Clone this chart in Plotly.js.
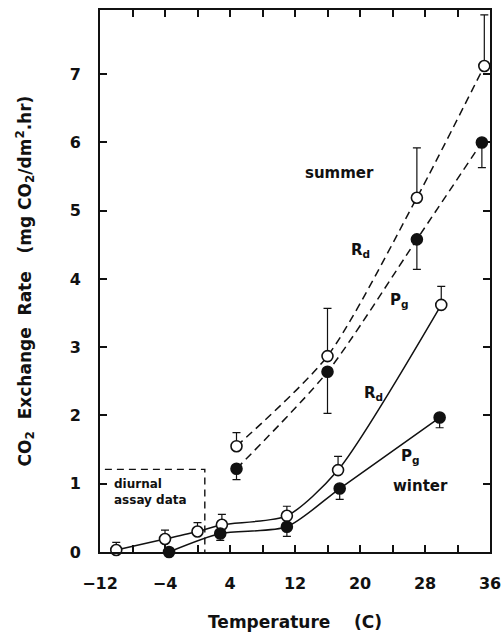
<!DOCTYPE html>
<html>
<head>
<meta charset="utf-8">
<script src="https://cdn.plot.ly/plotly-3.0.1.min.js"></script>
<style>html,body{margin:0;padding:0;background:#fff;}</style>
</head>
<body>
<div id="chart" style="width:503px;height:632px;"></div>
<script>
// ---- data ----
const winterRdT   = [-10, -4, 0, 3, 11, 17.3, 30];
const winterRd    = [0.03, 0.19, 0.30, 0.40, 0.53, 1.20, 3.62];
const winterRdErr = [0.11, 0.13, 0.13, 0.15, 0.14, 0.20, 0.27];

const winterPgT   = [-3.5, 2.8, 11, 17.5, 29.8];
const winterPg    = [0, 0.27, 0.37, 0.93, 1.97];
const winterPgErr = [0, 0.10, 0.14, 0.16, 0.15];

const summerRdT   = [4.8, 16, 27, 35.3];
const summerRd    = [1.55, 2.87, 5.19, 7.12];
const summerRdErr = [0.20, 0.70, 0.73, 0.75];

const summerPgT   = [4.8, 16, 27, 35];
const summerPg    = [1.22, 2.64, 4.58, 6.00];
const summerPgErr = [0.16, 0.61, 0.44, 0.37];

const diurnalBoxT = [-11.4, 0.9, 0.9];
const diurnalBoxY = [1.21, 1.21, 0];

const xTickStart = -12, xTickStep = 8, xMinorStep = 4;
const yTickStep = 1;

// ---- styling ----
const INK = '#111';
const FONT = 'DejaVu Sans';
const zeros = a => a.map(() => 0);
const NB = '\u00a0';

function series(x, y, err, open, dashed) {
  return {
    type: 'scatter', mode: 'lines+markers', x: x, y: y, cliponaxis: false,
    line: {color: INK, width: 1.5, shape: 'spline', smoothing: 0.7, dash: dashed ? '8px,5px' : 'solid'},
    marker: {symbol: 'circle', size: 11, color: open ? '#fff' : INK, line: {color: INK, width: 1.6}},
    error_y: open
      ? {type: 'data', symmetric: false, array: err, arrayminus: zeros(err), color: INK, thickness: 1.2, width: 4}
      : {type: 'data', symmetric: false, array: zeros(err), arrayminus: err, color: INK, thickness: 1.2, width: 4},
    hoverinfo: 'x+y'
  };
}

const traces = [
  {type: 'scatter', mode: 'lines', x: diurnalBoxT, y: diurnalBoxY, cliponaxis: false,
   line: {color: INK, width: 1.4, dash: '7px,5px'}, hoverinfo: 'skip'},
  series(summerRdT, summerRd, summerRdErr, true, true),
  series(summerPgT, summerPg, summerPgErr, false, true),
  series(winterRdT, winterRd, winterRdErr, true, false),
  series(winterPgT, winterPg, winterPgErr, false, false)
];

const labFont = {family: FONT, size: 15, color: INK, weight: 'bold'};
function lab(text, x, y, opts) {
  return Object.assign({text: text, x: x, y: y, xref: 'x', yref: 'y', showarrow: false,
    font: labFont, xanchor: 'center', yanchor: 'middle'}, opts || {});
}

const annotations = [
  lab('summer', 17.5, 5.55),
  lab('R<sub>d</sub>', 20.0, 4.42),
  lab('P<sub>g</sub>', 24.9, 3.69),
  lab('R<sub>d</sub>', 21.6, 2.32),
  lab('P<sub>g</sub>', 26.2, 1.40),
  lab('winter', 27.4, 0.96),
  lab('diurnal<br>assay' + NB + 'data', -10.5, 0.88, {xanchor: 'left', align: 'left',
    font: {family: FONT, size: 12, color: INK, weight: 'bold'}})
];

const axisCommon = {
  showline: true, linewidth: 2, linecolor: INK, mirror: 'ticks',
  ticks: 'inside', ticklen: 7, tickwidth: 1.5, tickcolor: INK,
  showgrid: false, zeroline: false,
  tickfont: {family: FONT, size: 16, color: INK, weight: 'bold'}
};

const layout = {
  width: 503, height: 632,
  margin: {l: 100, r: 13, t: 10, b: 80},
  paper_bgcolor: '#fff', plot_bgcolor: '#fff',
  showlegend: false,
  font: {family: FONT, color: INK},
  xaxis: Object.assign({}, axisCommon, {
    range: [-12, 36], tickmode: 'linear', tick0: xTickStart, dtick: xTickStep,
    minor: {tick0: xTickStart, dtick: xMinorStep, ticks: 'inside', ticklen: 7, tickwidth: 1.5, tickcolor: INK, showgrid: false},
    ticklabelstandoff: 16,
    title: {text: 'Temperature' + NB.repeat(4) + '(C)' + NB.repeat(5), standoff: 24,
            font: {family: FONT, size: 17, color: INK, weight: 'bold'}}
  }),
  yaxis: Object.assign({}, axisCommon, {
    range: [0, 7.94], tickmode: 'linear', tick0: 0, dtick: yTickStep,
    ticklabelstandoff: 14,
    title: {text: 'CO<sub>2</sub>' + NB.repeat(2) + 'Exchange' + NB.repeat(2) + 'Rate' + NB.repeat(3) +
                  '(mg' + NB + 'CO<sub>2</sub>/dm<sup>2</sup>.hr)',
            standoff: 34,
            font: {family: FONT, size: 17, color: INK, weight: 'bold'}}
  }),
  annotations: annotations
};

Plotly.newPlot('chart', traces, layout, {displayModeBar: false, responsive: false});
</script>
</body>
</html>
